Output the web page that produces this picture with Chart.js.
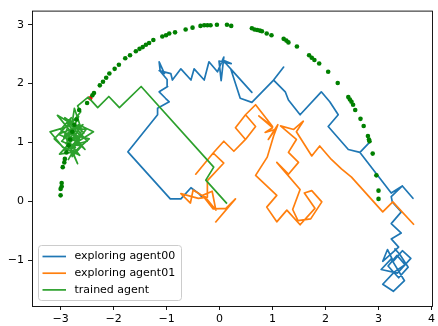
<!DOCTYPE html>
<html>
<head>
<meta charset="utf-8">
<script src="https://cdn.jsdelivr.net/npm/chart.js@4.4.0/dist/chart.umd.min.js"></script>
<style>
  html, body { margin: 0; padding: 0; background: #fff; }
  canvas { display: block; }
</style>
</head>
<body>
<canvas id="walk-chart" width="438" height="326"></canvas>
<script>
const X_TICKS = [-3, -2, -1, 0, 1, 2, 3, 4];
const Y_TICKS = [-1, 0, 1, 2, 3];
const X_RANGE = [-3.54, 4.01];
const Y_RANGE = [-1.78, 3.24];

const SERIES_LABELS = ['exploring agent00', 'exploring agent01', 'trained agent'];

const agent00 = [
  [-0.32, 0.06], [-0.39, 0.13], [-0.54, 0.23], [-0.73, 0.04], [-0.93, 0.04], [-1.73, 0.84],
  [-1.17, 1.47], [-1.17, 1.58], [-0.95, 1.69], [-1.02, 1.75], [-1.14, 1.86], [-0.98, 1.95],
  [-0.99, 2.07], [-1.12, 2.21], [-1.14, 2.37], [-1.04, 2.17], [-1.14, 2.22], [-0.92, 2.17],
  [-0.89, 2.06], [-0.73, 2.25], [-0.54, 2.06], [-0.48, 2.25], [-0.29, 2.06], [-0.20, 2.37],
  [-0.04, 2.20], [0.08, 2.45], [0.03, 2.05], [-0.01, 2.38], [0.22, 2.34], [0.06, 2.40],
  [0.61, 1.85], [0.21, 2.25], [0.39, 1.75], [0.61, 1.68], [1.02, 2.06], [1.21, 2.28],
  [1.02, 2.06], [1.24, 1.86], [1.30, 1.72], [1.52, 1.47], [1.92, 1.86], [2.08, 1.69],
  [2.24, 1.47], [2.05, 1.27], [2.43, 0.88], [2.65, 0.83], [2.83, 1.00], [2.65, 0.83],
  [3.24, 0.14], [3.45, 0.26], [3.65, 0.05], [3.45, 0.26], [3.24, 0.08], [3.26, -0.01],
  [3.43, -0.18], [3.24, -0.38], [3.43, -0.54], [3.24, -0.64], [3.38, -0.78], [3.08, -1.02],
  [3.17, -0.82], [3.28, -1.02], [3.45, -0.84], [3.61, -0.97], [3.36, -1.22], [3.05, -1.16],
  [3.24, -0.98], [3.49, -1.35], [3.28, -1.53], [3.08, -1.41], [3.30, -1.20], [3.50, -1.08],
  [3.35, -0.92], [3.18, -1.10], [3.38, -1.30], [3.56, -1.12], [3.40, -0.90], [3.30, -0.80]
];

const agent01 = [
  [-0.08, -0.36], [0.30, 0.04], [0.12, -0.12], [-0.12, -0.13], [-0.32, 0.10], [-0.14, 0.17],
  [-0.07, -0.15], [-0.26, 0.06], [-0.50, 0.19], [-0.55, -0.03], [-0.73, 0.13], [-0.40, 0.05],
  [-0.23, 0.07], [-0.23, 0.35], [0.08, 0.65], [-0.12, 0.82], [-0.45, 0.46], [-0.12, 0.82],
  [0.08, 1.02], [0.27, 0.85], [0.49, 1.05], [0.30, 1.25], [0.49, 1.47], [0.68, 1.27],
  [0.49, 1.05], [0.68, 1.27], [0.49, 1.47], [0.68, 1.64], [1.00, 1.27], [0.74, 1.45],
  [1.00, 1.25], [0.86, 1.17], [1.05, 1.22], [0.92, 1.05], [1.10, 1.30], [1.02, 1.11],
  [0.90, 0.75], [0.68, 0.44], [1.08, 0.10], [0.89, -0.10], [1.08, -0.35], [1.27, -0.15],
  [1.52, -0.40], [1.80, -0.12], [1.60, 0.14], [1.74, 0.18], [1.93, -0.01], [1.72, -0.30],
  [1.48, -0.33], [1.38, -0.14], [1.52, 0.20], [1.08, 0.66], [1.30, 0.46], [1.49, 0.66],
  [1.30, 0.83], [1.45, 1.05], [1.15, 1.28], [1.40, 1.22], [1.58, 1.36], [1.45, 1.18],
  [1.74, 0.77], [1.89, 0.94], [2.11, 0.71], [2.30, 0.55], [2.49, 0.41], [3.08, -0.18],
  [3.27, -0.01], [3.67, -0.40]
];

const trained = [
  [-2.86, 0.70], [-2.72, 0.92], [-2.98, 1.02], [-2.70, 1.28], [-2.92, 1.42], [-2.62, 1.10],
  [-2.88, 0.86], [-3.12, 1.06], [-2.80, 1.36], [-2.56, 1.16], [-2.84, 1.00], [-2.64, 0.78],
  [-2.96, 0.92], [-3.20, 1.18], [-2.90, 1.26], [-2.66, 1.44], [-2.82, 1.14], [-2.46, 1.06],
  [-2.74, 0.84], [-3.02, 0.80], [-2.76, 1.06], [-2.54, 0.88], [-2.86, 1.24], [-3.06, 1.46],
  [-2.76, 1.30], [-2.50, 1.02], [-2.82, 0.94], [-2.68, 0.64], [-2.92, 1.12], [-2.66, 1.30],
  [-2.38, 1.18], [-2.70, 1.00], [-3.00, 1.22], [-2.80, 1.42], [-2.94, 1.08], [-2.72, 1.20],
  [-2.90, 0.98], [-2.60, 0.94], [-2.78, 0.76], [-2.84, 1.18], [-2.58, 1.30], [-2.80, 1.04],
  [-3.04, 1.14], [-2.76, 1.24], [-2.52, 1.22], [-2.74, 0.96], [-2.96, 0.86], [-2.70, 1.12],
  [-2.88, 1.34], [-2.64, 1.04], [-2.86, 1.10], [-2.78, 0.90], [-2.60, 1.20], [-2.74, 1.58],
  [-2.78, 1.34], [-2.62, 1.52], [-2.68, 1.62], [-2.48, 1.77], [-2.30, 1.59], [-2.09, 1.78],
  [-1.89, 1.59], [-1.48, 1.95], [-0.11, 0.58], [-0.26, 0.36], [0.14, -0.04]
];

const targetDots = [
  [-3.00, 0.10], [-3.00, 0.21], [-2.98, 0.25], [-2.98, 0.31], [-2.96, 0.58], [-2.93, 0.66],
  [-2.92, 0.72], [-2.89, 0.83], [-2.85, 0.95], [-2.82, 1.05], [-2.78, 1.18], [-2.74, 1.30],
  [-2.70, 1.39], [-2.65, 1.55], [-2.50, 1.67], [-2.40, 1.80], [-2.37, 1.84], [-2.26, 1.97],
  [-2.20, 2.03], [-2.14, 2.10], [-2.08, 2.17], [-1.98, 2.25], [-1.90, 2.32], [-1.78, 2.43],
  [-1.69, 2.48], [-1.58, 2.55], [-1.51, 2.59], [-1.45, 2.62], [-1.39, 2.66], [-1.33, 2.69],
  [-1.25, 2.74], [-1.08, 2.80], [-1.01, 2.82], [-0.95, 2.85], [-0.84, 2.87], [-0.64, 2.92],
  [-0.51, 2.95], [-0.36, 2.98], [-0.29, 2.99], [-0.23, 2.99], [-0.17, 2.99], [-0.05, 3.00],
  [0.14, 3.00], [0.22, 2.98], [0.61, 2.94], [0.66, 2.92], [0.71, 2.91], [0.76, 2.90],
  [0.80, 2.89], [0.89, 2.85], [0.98, 2.82], [1.21, 2.76], [1.26, 2.73], [1.30, 2.70],
  [1.46, 2.63], [1.69, 2.48], [1.74, 2.44], [1.79, 2.40], [1.88, 2.34], [2.05, 2.20],
  [2.23, 2.01], [2.43, 1.77], [2.46, 1.73], [2.49, 1.69], [2.52, 1.64], [2.56, 1.55],
  [2.66, 1.40], [2.72, 1.28], [2.80, 1.11], [2.82, 1.05], [2.83, 1.02], [2.89, 0.81],
  [2.96, 0.44], [3.00, 0.18], [3.00, 0.04]
];

const startPoint = [[-2.44, 1.75]];

const COLORS = {
  blue: '#1f77b4',
  orange: '#ff7f0e',
  green: '#2ca02c',
  dots: '#008000',
  red: '#ff0000'
};

const FONT = '"DejaVu Sans", "Liberation Sans", sans-serif';

function toPoints(pairs) {
  return pairs.map(p => ({ x: p[0], y: p[1] }));
}

function lineSet(label, pairs, color, order) {
  return {
    label: label,
    data: toPoints(pairs),
    showLine: true,
    borderColor: color,
    backgroundColor: color,
    borderWidth: 1.7,
    borderJoinStyle: 'round',
    pointRadius: 0,
    pointHoverRadius: 0,
    tension: 0,
    order: order
  };
}

function minusSign(value) {
  return String(value).replace('-', '\u2212');
}

// matplotlib style legend in the lower left of the axes
const legendBox = {
  id: 'legendBox',
  afterDatasetsDraw(chart) {
    const ctx = chart.ctx;
    const area = chart.chartArea;
    const x = area.left + 6.5;
    const y = area.bottom - 60.5;
    const w = 143;
    const h = 55;
    ctx.save();
    ctx.beginPath();
    ctx.roundRect(x, y, w, h, 3);
    ctx.fillStyle = 'rgba(255,255,255,0.8)';
    ctx.fill();
    ctx.strokeStyle = '#cccccc';
    ctx.lineWidth = 1;
    ctx.stroke();

    const colors = [COLORS.blue, COLORS.orange, COLORS.green];
    ctx.font = '11px ' + FONT;
    ctx.textBaseline = 'middle';
    ctx.textAlign = 'left';
    SERIES_LABELS.forEach((label, i) => {
      const rowY = y + 11 + i * 16.7;
      ctx.beginPath();
      ctx.moveTo(x + 4, rowY);
      ctx.lineTo(x + 27.5, rowY);
      ctx.strokeStyle = colors[i];
      ctx.lineWidth = 1.7;
      ctx.stroke();
      ctx.fillStyle = '#000';
      ctx.fillText(label, x + 36, rowY);
    });
    ctx.restore();
  }
};

const frame = {
  id: 'frame',
  afterDatasetsDraw(chart) {
    const ctx = chart.ctx;
    const a = chart.chartArea;
    ctx.save();
    ctx.strokeStyle = '#000';
    ctx.lineWidth = 0.9;
    ctx.strokeRect(a.left + 0.5, a.top + 0.5, a.right - a.left, a.bottom - a.top);
    ctx.restore();
  }
};

const axisStyle = {
  border: { display: false },
  grid: {
    display: true,
    drawOnChartArea: false,
    drawTicks: true,
    tickLength: 4,
    color: '#000',
    lineWidth: 0.9
  }
};

new Chart(document.getElementById('walk-chart'), {
  type: 'scatter',
  data: {
    datasets: [
      lineSet(SERIES_LABELS[0], agent00, COLORS.blue, 4),
      lineSet(SERIES_LABELS[1], agent01, COLORS.orange, 3),
      lineSet(SERIES_LABELS[2], trained, COLORS.green, 1),
      {
        label: 'target',
        data: toPoints(targetDots),
        pointRadius: 2.3,
        pointBorderWidth: 0,
        pointBackgroundColor: COLORS.dots,
        showLine: false,
        order: 0
      },
      {
        label: 'start',
        data: toPoints(startPoint),
        pointRadius: 2.2,
        pointBorderWidth: 0,
        pointBackgroundColor: COLORS.red,
        showLine: false,
        order: 2
      }
    ]
  },
  options: {
    responsive: false,
    animation: false,
    devicePixelRatio: 1,
    layout: { padding: { left: 0, right: 3, top: 6, bottom: 0 } },
    scales: {
      x: {
        ...axisStyle,
        type: 'linear',
        min: X_RANGE[0],
        max: X_RANGE[1],
        afterBuildTicks: (scale) => { scale.ticks = X_TICKS.map(v => ({ value: v })); },
        afterFit: (scale) => { scale.height = 20; },
        ticks: {
          color: '#000',
          padding: 3,
          maxRotation: 0,
          font: { family: FONT, size: 11 },
          callback: minusSign
        }
      },
      y: {
        ...axisStyle,
        type: 'linear',
        min: Y_RANGE[0],
        max: Y_RANGE[1],
        afterBuildTicks: (scale) => { scale.ticks = Y_TICKS.map(v => ({ value: v })); },
        afterFit: (scale) => { scale.width = 32; },
        ticks: {
          color: '#000',
          padding: 4,
          font: { family: FONT, size: 11 },
          callback: minusSign
        }
      }
    },
    plugins: {
      legend: { display: false },
      tooltip: { enabled: false }
    }
  },
  plugins: [frame, legendBox]
});
</script>
</body>
</html>
